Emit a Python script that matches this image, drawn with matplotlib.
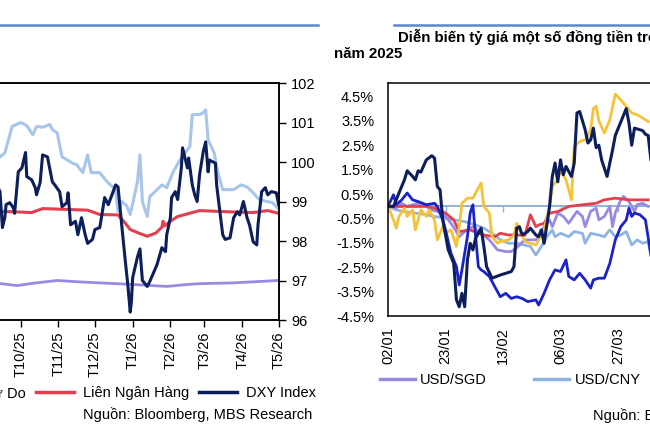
import numpy as np
import pandas as pd
import matplotlib
matplotlib.use('Agg')
import matplotlib.pyplot as plt
from matplotlib.lines import Line2D

plt.rcParams['font.family'] = ['Liberation Sans', 'DejaVu Sans']

# ---------------- left chart: VND rates (left axis) and DXY (right axis) ----------------
dxy_dates = ['2025-09-10', '2025-09-14', '2025-09-16', '2025-09-18', '2025-09-19', '2025-09-22', '2025-09-25',
             '2025-09-26', '2025-09-29', '2025-10-02', '2025-10-05', '2025-10-06', '2025-10-10', '2025-10-13',
             '2025-10-14', '2025-10-17', '2025-10-19', '2025-10-23', '2025-10-27', '2025-10-29', '2025-11-02',
             '2025-11-04', '2025-11-08', '2025-11-09', '2025-11-11', '2025-11-15', '2025-11-17', '2025-11-20',
             '2025-11-23', '2025-11-25', '2025-11-29', '2025-12-01', '2025-12-05', '2025-12-09', '2025-12-12',
             '2025-12-15', '2025-12-18', '2025-12-20', '2025-12-23', '2025-12-26', '2025-12-28', '2025-12-30',
             '2025-12-31', '2026-01-01', '2026-01-05', '2026-01-07', '2026-01-09', '2026-01-13', '2026-01-15',
             '2026-01-21', '2026-01-25', '2026-01-28', '2026-01-29', '2026-02-01', '2026-02-02', '2026-02-05',
             '2026-02-07', '2026-02-10', '2026-02-11', '2026-02-15', '2026-02-16', '2026-02-19', '2026-02-21',
             '2026-02-23', '2026-02-25', '2026-02-28', '2026-03-02', '2026-03-04', '2026-03-05', '2026-03-10',
             '2026-03-11', '2026-03-14', '2026-03-16', '2026-03-18', '2026-03-22', '2026-03-25', '2026-03-28',
             '2026-03-30', '2026-04-02', '2026-04-05', '2026-04-07', '2026-04-10', '2026-04-13', '2026-04-14',
             '2026-04-17', '2026-04-20', '2026-04-22', '2026-04-25', '2026-04-29', '2026-05-01']
dxy = [99.5, 99.25, 98.34, 98.6, 98.92, 98.97, 98.84, 98.7, 99.75,
       99.85, 100.24, 99.63, 99.55, 99.35, 99.17, 99.48, 100.18, 100.13, 99.5, 99.42,
       99.25, 98.87, 98.97, 99.22, 98.41, 98.5, 98.16, 98.59, 98.16, 97.94, 98.04,
       98.29, 98.34, 99.1, 98.92, 99.17, 99.42, 99.37, 98.41, 97.48, 96.9, 96.2, 96.47,
       97.07, 97.6, 97.8, 97.0, 96.85, 96.97, 97.4, 97.83, 97.73, 98.16,
       98.59, 99.1, 99.25, 99.05, 99.85, 100.36, 99.85, 100.1, 99.42, 99.17, 99.0, 99.68, 100.26,
       100.51, 99.75, 100.05, 99.97, 99.42, 98.66, 98.16, 98.04, 98.08, 98.59, 98.74, 98.66,
       99.0, 98.59, 98.41, 97.98, 97.9, 98.41, 99.25, 99.35, 99.17, 99.25, 99.22,
       98.92]

interbank_dates = ['2025-09-10', '2025-09-25', '2025-10-10', '2025-10-19', '2025-11-08', '2025-11-25',
                   '2025-12-05', '2025-12-20', '2025-12-26', '2025-12-30', '2026-01-06', '2026-01-13',
                   '2026-01-20', '2026-01-25', '2026-01-26', '2026-01-27', '2026-02-01', '2026-02-07',
                   '2026-02-25', '2026-03-20', '2026-04-10', '2026-04-22', '2026-05-01']
interbank = [26175, 26170, 26160, 26210, 26200, 26190, 26135, 26130, 26025, 25945, 25900, 25860,
             25900, 25975, 26050, 25990, 26050, 26110, 26185, 26170, 26160, 26185, 26150]

central_dates = ['2025-09-10', '2025-09-28', '2025-10-11', '2025-10-31', '2025-11-21', '2025-12-12',
                 '2026-01-01', '2026-01-29', '2026-02-15', '2026-02-25', '2026-03-25', '2026-04-30']
central = [25270, 25235, 25265, 25300, 25280, 25265, 25250, 25225, 25250, 25260, 25270, 25300]

free_dates = ['2025-09-10', '2025-09-14', '2025-09-18', '2025-09-24', '2025-10-01', '2025-10-06', '2025-10-11',
              '2025-10-14', '2025-10-19', '2025-10-25', '2025-10-27', '2025-10-31', '2025-11-04', '2025-11-08',
              '2025-11-12', '2025-11-16', '2025-11-21', '2025-11-25', '2025-11-28', '2025-12-05', '2025-12-11',
              '2025-12-18', '2025-12-20', '2025-12-23', '2025-12-27', '2025-12-30', '2026-01-05', '2026-01-07',
              '2026-01-09', '2026-01-13', '2026-01-15', '2026-01-25', '2026-01-29', '2026-02-03', '2026-02-09',
              '2026-02-13', '2026-02-17', '2026-02-19', '2026-02-25', '2026-02-28', '2026-03-02', '2026-03-04',
              '2026-03-09', '2026-03-12', '2026-03-16', '2026-03-25', '2026-03-31', '2026-04-05', '2026-04-10',
              '2026-04-15', '2026-04-21', '2026-04-26', '2026-04-30']
free = [26800, 26865, 26915, 27250,
        27300, 27260, 27145, 27250, 27240, 27275, 27210, 27170,
        26865, 26830, 26790, 26765, 26665, 26890, 26665,
        26665, 26550, 26450, 26175, 26300, 26250, 26135,
        26550, 26890, 26300, 26110, 26360, 26510, 26475,
        26665, 26830, 26915, 26995, 27400, 27400, 27425,
        27460, 27080, 26915, 26665, 26450, 26450, 26510,
        26485, 26410, 26325, 26300, 26285, 26220]

month_ticks = ['2025-10-01', '2025-11-01', '2025-12-01', '2026-01-01', '2026-02-01',
               '2026-03-01', '2026-04-01', '2026-05-01']
month_labels = ['T10/25', 'T11/25', 'T12/25', 'T1/26', 'T2/26', 'T3/26', 'T4/26', 'T5/26']
dxy_ticks = [96, 97, 98, 99, 100, 101, 102]

# ---------------- right chart: % change vs USD since 02/01/2025 ----------------
start_2025 = pd.Timestamp('2025-01-02')

navy_days = [0, 2, 4, 6, 7, 9, 10, 11, 12, 14, 16, 17, 18, 19, 20, 22, 24, 25, 26, 27, 28, 29, 30, 31, 32, 34,
             35, 36, 38, 41, 43, 45, 46, 47, 48, 49, 51, 52, 54, 55, 56, 57, 59, 60, 61, 62, 63, 64, 65, 67,
             68, 69, 70, 72, 73, 74, 75, 76, 77, 78, 80, 81, 82, 83, 85, 87, 88, 89, 90, 93, 94, 95, 96]
navy_chg = [0.0, -0.01, 0.54, 1.08, 1.45, 1.22, 1.08, 1.45, 1.4, 1.9, 2.07, 1.97, 0.81, 0.67, -0.56, -1.79,
            -2.34, -3.84, -4.12, -3.57, -4.12, -2.2, -1.52, -1.79, -1.31, -0.9, -1.65, -2.48, -2.95, -2.82,
            -2.75, -2.68, -2.48, -0.9, -0.84, -1.18, -1.04, -0.9, -1.18, -1.25, -0.97, -1.52, -0.01, 1.22,
            1.77, 1.0, 1.9, 1.29, 1.63, 1.22, 1.77, 3.82, 3.88, 3.13, 2.59, 2.72, 3.2, 2.4, 2.5, 1.9,
            1.22, 1.77, 2.3, 2.9, 3.45, 4.0, 3.41, 2.5, 3.2, 3.1, 2.95, 2.9, 1.9]

yellow_days = [0, 2, 3, 4, 6, 7, 9, 10, 12, 14, 15, 17, 18, 20, 21, 23, 25, 26, 27, 29, 31, 32, 34, 35, 37,
               38, 40, 41, 44, 46, 47, 50, 54, 55, 57, 59, 60, 62, 63, 65, 67, 68, 70, 72, 74, 75, 76, 77,
               79, 81, 83, 85, 86, 89, 91, 93, 95]
yellow_chg = [0.0, -0.56, -0.9, -0.42, -0.08, -0.42, -0.15, -0.97, -0.15, -0.42, -0.15, -0.56, -1.38, -0.84,
              -1.11, -0.97, -1.65, -0.84, 0.12, 0.33, 0.33, 0.54, 0.95, -0.01, -0.28, -1.25, -1.52, -1.45,
              -1.38, -1.2, -0.7, -1.45, -1.59, -1.38, -0.97, -0.01, 0.81, 1.08, 1.49, 1.08, 0.26, 2.45,
              2.65, 2.72, 3.13, 4.0, 4.1, 3.5, 3.0, 3.54, 4.6, 4.36, 4.22, 3.82, 3.75, 3.61, 3.47]

blue_days = [0, 2, 3, 5, 7, 9, 11, 14, 17, 18, 20, 21, 23, 25, 26, 27, 29, 30, 31, 32, 33, 34, 35, 37, 39,
             41, 43, 45, 47, 49, 51, 54, 55, 57, 59, 61, 63, 65, 66, 68, 70, 72, 74, 75, 77, 79, 81, 83,
             85, 87, 88, 89, 90, 92, 94, 96]
blue_chg = [0.0, 0.47, 0.06, 0.26, 0.54, 0.26, 0.19, 0.06, 0.12, -0.01, -0.56, -0.97, -1.93, -2.48, -3.23,
            -2.61, -1.25, -0.28, 0.06, -1.25, -2.48, -2.61, -2.68, -2.88, -3.3, -3.71, -3.57, -3.78, -3.71,
            -3.78, -3.91, -3.84, -4.05, -3.57, -3.02, -2.61, -2.68, -2.2, -2.88, -3.02, -2.75, -3.02,
            -3.36, -3.02, -2.95, -2.95, -2.34, -1.38, -0.84, -0.56, -0.08, -0.42, -0.28, -0.35, -0.56, -2.0]

red_days = [0, 4, 9, 14, 17, 21, 24, 26, 30, 33, 35, 39, 41, 44, 47, 50, 52, 54, 55, 57, 59, 62, 66, 71,
            76, 79, 83, 88, 95]
red_chg = [0.0, -0.01, -0.01, -0.01, -0.08, -0.28, -0.56, -1.04, -0.97, -1.11, -1.18, -1.25, -1.11, -1.18,
           -1.18, -1.2, -0.35, -0.84, -0.77, -0.7, -0.28, -0.22, -0.01, 0.06, 0.12, 0.26, 0.33, 0.26, 0.26]

sgd_days = [0, 3, 5, 7, 11, 14, 16, 20, 23, 25, 26, 28, 31, 34, 37, 40, 43, 45, 47, 50, 54, 55, 57, 59, 60,
            62, 64, 66, 69, 71, 72, 74, 76, 77, 79, 81, 82, 83, 85, 86, 88, 90, 91, 93, 95]
sgd_chg = [0.0, -0.08, 0.12, -0.01, 0.12, -0.01, -0.15, -0.28, -0.7, -1.04, -1.25, -1.04, -0.84, -1.11,
           -1.38, -1.79, -1.86, -1.86, -1.7, -1.38, -1.38, -1.25, -0.84, -0.56, -0.84, -0.28, -0.42, -0.7,
           -0.21, -0.42, -0.84, -0.21, -0.08, -0.56, -0.42, -0.01, -0.84, -0.28, 0.26, 0.4, 0.19, -0.21,
           0.06, 0.12, -0.01]

cny_days = [0, 3, 6, 10, 14, 17, 21, 24, 28, 32, 35, 38, 41, 44, 47, 52, 54, 56, 58, 60, 61, 63, 66, 68,
            71, 72, 74, 77, 79, 81, 83, 85, 87, 89, 91, 93, 95, 96]
cny_chg = [0.0, -0.15, -0.22, -0.28, -0.35, -0.42, -0.49, -0.56, -0.63, -0.77, -0.9, -1.11, -1.38, -1.52,
           -1.52, -1.65, -2.0, -1.65, -1.25, -0.97, -1.25, -1.11, -1.25, -1.04, -1.11, -1.52, -1.11, -1.18,
           -1.25, -0.97, -1.25, -1.18, -1.04, -1.59, -1.38, -1.52, -1.45, -2.0]

pct_ticks = [-4.5, -3.5, -2.5, -1.5, -0.5, 0.5, 1.5, 2.5, 3.5, 4.5]
date_tick_days = [0, 21, 42, 63, 84]
date_tick_labels = ['02/01', '23/01', '13/02', '06/03', '27/03']

# colours
NAVY = '#0c1e5b'
RED = '#e2404f'
LIGHT = '#a8c5ea'
LAV = '#9a89e2'
BLUE = '#1a22c9'
GOLD = '#f6c238'
CNY = '#90b4e2'
RULE = '#5b88c6'

W, H = 650, 433
fig = plt.figure(figsize=(W / 100, H / 100), dpi=100)


def fx(px):
    return px / W


def fy(py):
    return 1 - py / H


def to_dates(days):
    return start_2025 + pd.to_timedelta(days, unit='D')


FS = 10.5

# ---------- left chart ----------
ax1 = fig.add_axes([fx(-91.3), fy(320), fx(370), (320 - 83) / H])
ax1.plot(pd.to_datetime(central_dates), central, color=LAV, lw=2.0)
ax1.plot(pd.to_datetime(free_dates), free, color=LIGHT, lw=2.2)
ax1.plot(pd.to_datetime(interbank_dates), interbank, color=RED, lw=2.2)
ax1.set_ylim(24800, 27800)
ax1.tick_params(axis='y', left=False, labelleft=False)  # left VND axis lies outside the crop
ax1.set_xlim(pd.Timestamp('2025-07-01'), pd.Timestamp('2026-05-01'))
ax1.set_xticks(pd.to_datetime(month_ticks))
ax1.set_xticklabels(month_labels, rotation=90, fontsize=FS)
ax1.tick_params(axis='x', length=5, width=1, pad=3)

ax2 = ax1.twinx()
ax2.plot(pd.to_datetime(dxy_dates), dxy, color=NAVY, lw=2.2)
ax2.set_ylim(96, 102)
ax2.set_yticks(dxy_ticks)
ax2.set_yticklabels([str(v) for v in dxy_ticks], fontsize=FS)
ax2.tick_params(axis='y', length=5, width=1, pad=4)
for a in (ax1, ax2):
    for s in a.spines.values():
        s.set_linewidth(1.1)

fig.add_artist(Line2D([0, fx(318)], [fy(25), fy(25)], color=RULE, lw=1.8))

left_handles = [Line2D([], [], color=LAV, lw=2.5), Line2D([], [], color=LIGHT, lw=2.5),
                Line2D([], [], color=RED, lw=2.5), Line2D([], [], color=NAVY, lw=2.5)]
fig.legend(left_handles, ['Trung Tâm', 'Tự Do', 'Liên Ngân Hàng', 'DXY Index'],
           loc='center right', bbox_to_anchor=(fx(316), fy(393)), ncol=4, frameon=False,
           fontsize=FS, handlelength=2.6, handletextpad=0.6, columnspacing=0.7,
           borderpad=0, borderaxespad=0)
fig.text(fx(312), fy(415), 'Nguồn: Bloomberg, MBS Research', ha='right', va='center', fontsize=FS)

# ---------- right chart ----------
ax3 = fig.add_axes([fx(388), fy(316), fx(356), (316 - 83) / H])
ax3.plot(to_dates(cny_days), cny_chg, color=CNY, lw=2.0)
ax3.plot(to_dates(sgd_days), sgd_chg, color=LAV, lw=2.0)
ax3.plot(to_dates(red_days), red_chg, color=RED, lw=2.0)
ax3.plot(to_dates(yellow_days), yellow_chg, color=GOLD, lw=2.0)
ax3.plot(to_dates(blue_days), blue_chg, color=BLUE, lw=2.0)
ax3.plot(to_dates(navy_days), navy_chg, color=NAVY, lw=2.2)
ax3.set_xlim(start_2025, start_2025 + pd.Timedelta(days=130))
ax3.set_ylim(-4.5, 5.05)
ax3.set_yticks(pct_ticks)
ax3.set_yticklabels([f'{v:.1f}%' for v in pct_ticks], fontsize=FS)
ax3.set_xticks(to_dates(date_tick_days))
ax3.set_xticklabels(date_tick_labels, rotation=90, fontsize=FS)
ax3.tick_params(axis='y', length=0, pad=10)
ax3.tick_params(axis='x', length=0, pad=8)
for s in ax3.spines.values():
    s.set_linewidth(1.1)

# zero line with small ticks
zero_pos = (0 - (-4.5)) / (5.05 + 4.5)
sec = ax3.secondary_xaxis(zero_pos)
sec.set_xticks(to_dates(date_tick_days))
sec.tick_params(axis='x', length=4, width=1, color=CNY, labelbottom=False, labeltop=False)
for s in sec.spines.values():
    s.set_color('#7fa3d4')
    s.set_linewidth(1.2)

fig.add_artist(Line2D([fx(394), 1], [fy(25), fy(25)], color=RULE, lw=1.8))
fig.text(fx(398), fy(37), 'Diễn biến tỷ giá một số đồng tiền trong khu vực so với USD từ đầu',
         ha='left', va='center', fontsize=10.8, fontweight='bold')
fig.text(fx(334), fy(54), 'năm 2025', ha='left', va='center', fontsize=10.8, fontweight='bold')

right_handles = [Line2D([], [], color=LAV, lw=2.5), Line2D([], [], color=CNY, lw=2.5)]
fig.legend(right_handles, ['USD/SGD', 'USD/CNY'], loc='center left',
           bbox_to_anchor=(fx(380), fy(380)), ncol=2, frameon=False, fontsize=FS,
           handlelength=2.4, handletextpad=0.35, columnspacing=3.25, borderpad=0, borderaxespad=0)
fig.text(fx(593), fy(416), 'Nguồn: Bloomberg, MBS Research', ha='left', va='center', fontsize=FS)

fig.savefig('out.png', dpi=100)
